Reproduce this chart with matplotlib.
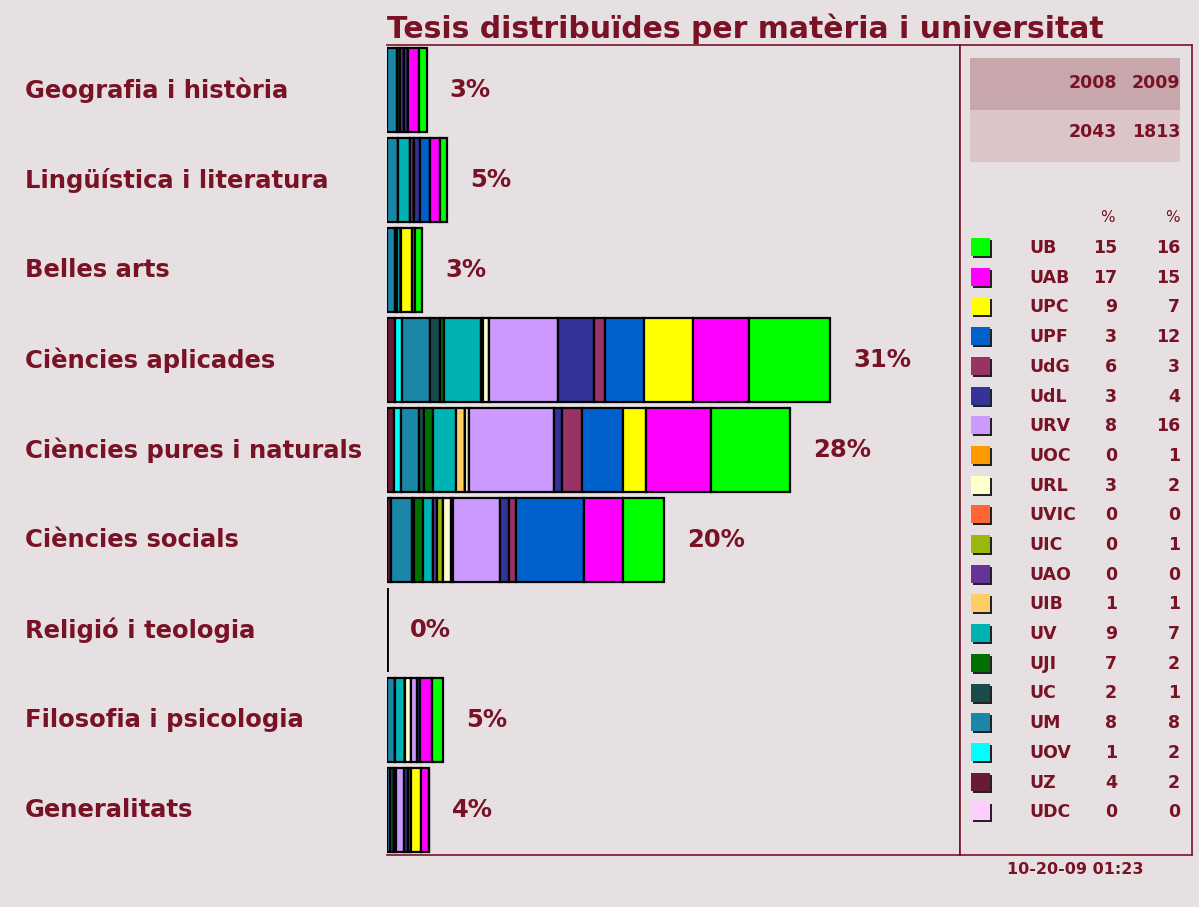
import matplotlib
matplotlib.use("Agg")
import matplotlib.pyplot as plt
import matplotlib.patches as patches
import matplotlib.transforms as mtransforms

#------------------------------------------------
# data (bar widths in % of all theses)
categories = ["Geografia i història", "Lingüística i literatura", "Belles arts",
              "Ciències aplicades", "Ciències pures i naturals", "Ciències socials",
              "Religió i teologia", "Filosofia i psicologia", "Generalitats"]
pct_labels = ["3%", "5%", "3%", "31%", "28%", "20%", "0%", "5%", "4%"]

# legend order (top to bottom); bars are stacked in reverse order
universities = ["UB", "UAB", "UPC", "UPF", "UdG", "UdL", "URV", "UOC", "URL", "UVIC",
                "UIC", "UAO", "UIB", "UV", "UJI", "UC", "UM", "UOV", "UZ", "UDC"]
uni_colors = ["#00FF00", "#FF00FF", "#FFFF00", "#0060CC", "#993366", "#333399",
              "#CC99FF", "#FF9900", "#FFFFCC", "#FF6633", "#9AB80A", "#663399",
              "#FFCC66", "#00B3B3", "#007000", "#1B4A4A", "#1A86A8", "#00FFFF",
              "#6B1A33", "#FFCCFF"]
pct_2008 = [15, 17, 9, 3, 6, 3, 8, 0, 3, 0, 0, 0, 1, 9, 7, 2, 8, 1, 4, 0]
pct_2009 = [16, 15, 7, 12, 3, 4, 16, 1, 2, 0, 1, 0, 1, 7, 2, 1, 8, 2, 2, 0]
years = ["2008", "2009"]
totals = ["2043", "1813"]
timestamp = "10-20-09 01:23"

# segment sizes per category, same order as `universities`
#            UB    UAB   UPC   UPF   UdG   UdL   URV   UOC   URL   UVIC  UIC   UAO   UIB   UV    UJI   UC    UM    UOV   UZ    UDC
geografia = [0.54, 0.77, 0,    0,    0,    0.28, 0,    0,    0,    0,    0,    0.28, 0,    0,    0,    0.20, 0.70, 0,    0,    0]
linguist  = [0.47, 0.70, 0,    0.75, 0,    0.42, 0,    0,    0,    0,    0,    0.23, 0,    0.89, 0,    0,    0.75, 0,    0,    0]
belles    = [0.48, 0.20, 0.77, 0,    0,    0,    0,    0,    0,    0,    0,    0,    0,    0.30, 0,    0.12, 0.58, 0,    0,    0]
aplicades = [5.70, 3.88, 3.43, 2.73, 0.77, 2.52, 4.83, 0,    0.42, 0,    0,    0,    0.14, 2.59, 0.28, 0.70, 1.96, 0.49, 0.56, 0]
pures     = [5.48, 4.55, 1.63, 2.87, 1.38, 0.54, 6.01, 0,    0.28, 0,    0,    0,    0.56, 1.61, 0.63, 0.35, 1.31, 0.47, 0.49, 0]
socials   = [2.87, 2.73, 0,    4.73, 0.51, 0.65, 3.22, 0.14, 0.61, 0,    0.40, 0.28, 0,    0.70, 0.63, 0.14, 1.47, 0,    0.28, 0]
religio   = [0] * 20
filosofia = [0.77, 0.86, 0,    0,    0,    0.19, 0.40, 0,    0.47, 0,    0,    0,    0,    0.70, 0,    0,    0.54, 0,    0,    0]
general   = [0,    0.50, 0.70, 0.25, 0,    0.30, 0.50, 0,    0,    0,    0,    0.20, 0,    0,    0,    0.23, 0.23, 0,    0,    0]
segments = [geografia, linguist, belles, aplicades, pures, socials, religio, filosofia, general]

#------------------------------------------------
bg = "#E6E0E3"
maroon = "#7A1226"
W, H = 1199, 907

fig = plt.figure(figsize=(W / 100, H / 100), dpi=100, facecolor=bg)

# main bar panel
ax = fig.add_axes([387 / W, 1 - 855 / H, (960 - 387) / W, 810 / H])
ax.set_facecolor(bg)
ypos = list(range(len(categories)))
lefts = [0.0] * len(categories)
for k in reversed(range(len(universities))):
    widths = [row[k] for row in segments]
    ax.barh(ypos, widths, left=lefts, height=0.93, color=uni_colors[k],
            edgecolor="black", linewidth=1.6, zorder=3)
    lefts = [l + w for l, w in zip(lefts, widths)]

ax.set_xlim(0, 573 / 14.3)
ax.set_ylim(len(categories) - 0.5, -0.5)
ax.set_xticks([])
ax.set_yticks([])
for s in ax.spines.values():
    s.set_color(maroon)
    s.set_linewidth(1.2)
ax.spines["left"].set_visible(False)

# percentage labels at bar ends
for i, tot in enumerate(lefts):
    ax.annotate(pct_labels[i], (tot, i), xytext=(23, 0), textcoords="offset pixels",
                ha="left", va="center", fontsize=17.5, fontweight="bold", color=maroon)

# category names on the left
trans = mtransforms.blended_transform_factory(fig.transFigure, ax.transData)
for i, name in enumerate(categories):
    ax.text(25 / W, i, name, transform=trans, ha="left", va="center",
            fontsize=17.5, fontweight="bold", color=maroon, clip_on=False)

fig.text(387 / W, 1 - 29 / H, "Tesis distribuïdes per matèria i universitat",
         ha="left", va="center", fontsize=21.5, fontweight="bold", color=maroon)

#------------------------------------------------
# legend panel, laid out in pixel coordinates
lg = fig.add_axes([960 / W, 1 - 855 / H, 232 / W, 810 / H])
lg.set_facecolor(bg)
lg.set_xlim(960, 1192)
lg.set_ylim(855, 45)
lg.set_xticks([])
lg.set_yticks([])
for s in lg.spines.values():
    s.set_color(maroon)
    s.set_linewidth(1.2)

lg.add_patch(patches.Rectangle((970, 58), 210, 52, facecolor="#C8A7AC", edgecolor="none"))
lg.add_patch(patches.Rectangle((970, 110), 210, 52, facecolor="#DCC5C9", edgecolor="none"))
num_kw = dict(ha="right", va="center", fontsize=12.5, fontweight="bold", color=maroon)
lg.text(1117, 83, years[0], **num_kw)
lg.text(1180, 83, years[1], **num_kw)
lg.text(1117, 132, totals[0], **num_kw)
lg.text(1180, 132, totals[1], **num_kw)
lg.text(1115, 217, "%", ha="right", va="center", fontsize=11, color=maroon)
lg.text(1180, 217, "%", ha="right", va="center", fontsize=11, color=maroon)

row_kw = dict(va="center", fontsize=12.5, fontweight="bold", color=maroon)
for i, uni in enumerate(universities):
    y = 248 + i * 29.7
    lg.add_patch(patches.Rectangle((973, y - 8), 19, 18, facecolor="#222222", edgecolor="none"))
    lg.add_patch(patches.Rectangle((971, y - 10), 19, 18, facecolor=uni_colors[i], edgecolor="none"))
    lg.text(1029, y, uni, ha="left", **row_kw)
    lg.text(1117, y, str(pct_2008[i]), ha="right", **row_kw)
    lg.text(1180, y, str(pct_2009[i]), ha="right", **row_kw)

fig.text(1075 / W, 1 - 869 / H, timestamp, ha="center", va="center",
         fontsize=11.5, fontweight="bold", color=maroon)

fig.savefig("out.png", dpi=100, facecolor=bg)
